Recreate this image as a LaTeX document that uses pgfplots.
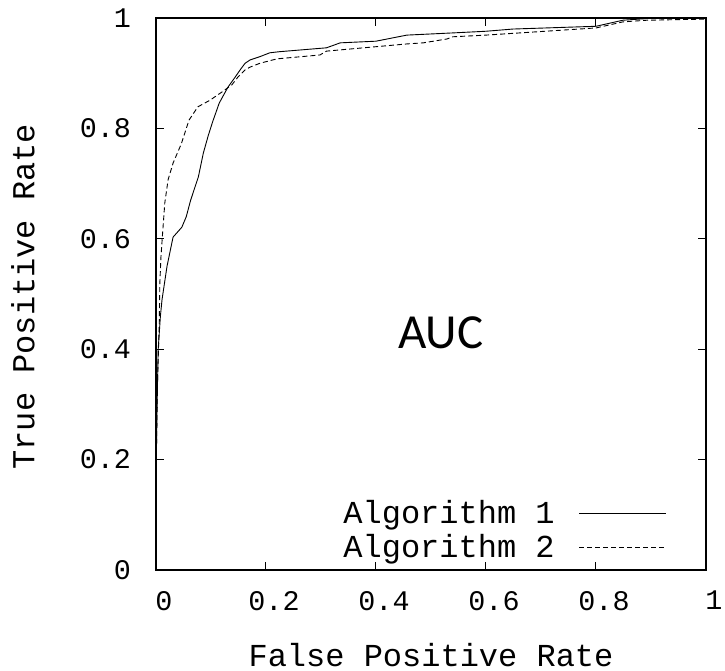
\documentclass[border=0pt]{standalone}
\usepackage{fontspec}
\setmainfont{Liberation Mono}
\newfontfamily\aucfont{Carlito}
\usepackage{pgfplots}
\pgfplotsset{compat=1.18}
\usetikzlibrary{calc}

\begin{document}
\begin{tikzpicture}
\begin{axis}[
  name=ax,
  scale only axis,
  width=275pt, height=276pt,
  xmin=0, xmax=1, ymin=0, ymax=1,
  xtick={0,0.2,0.4,0.6,0.8,1},
  ytick={0,0.2,0.4,0.6,0.8,1},
  tick align=inside,
  major tick length=4pt,
  tick style={black, line width=0.5pt},
  axis line style={line width=0.6pt},
  /pgf/number format/assume math mode=true,
  ticklabel style={font=\fontsize{14.2}{16}\selectfont},
  xticklabel style={yshift=-7pt, xshift=4pt},
  yticklabel style={xshift=-9pt},
  xlabel={False Positive Rate},
  ylabel={True Positive Rate},
  label style={font=\fontsize{16}{18}\selectfont},
  xlabel style={at={(axis description cs:0.5,-0.174)}, anchor=base},
  ylabel style={at={(axis description cs:-0.242,0.495)}, anchor=center},
  legend plot pos=right,
  legend cell align=right,
  legend style={draw=none, fill=none, inner sep=0pt,
    at={(axis description cs:0.929,0.0716)}, anchor=east,
    font=\fontsize{16}{17.5}\selectfont, column sep=10pt},
  legend image code/.code={\draw[#1] (0pt,0pt) -- (43.5pt,0pt);},
]
\addplot[black, line width=0.45pt] coordinates {
(0,0.155) (0.002,0.30) (0.004,0.40) (0.008,0.46) (0.011,0.49) (0.02,0.55)
(0.031,0.603) (0.047,0.621) (0.055,0.64) (0.063,0.670) (0.077,0.712)
(0.086,0.755) (0.095,0.787) (0.103,0.812) (0.115,0.846) (0.131,0.875)
(0.144,0.893) (0.153,0.906) (0.162,0.918) (0.171,0.924) (0.189,0.930)
(0.207,0.937) (0.225,0.939) (0.31,0.946) (0.335,0.955) (0.40,0.958)
(0.456,0.969) (0.54,0.973) (0.60,0.976) (0.649,0.980) (0.80,0.985)
(0.849,0.996) (0.893,0.999) (1,1)
};
\addlegendentry{Algorithm 1}
\addplot[black, line width=0.45pt, dash pattern=on 2.5pt off 1.5pt] coordinates {
(0,0.17) (0.003,0.35) (0.006,0.45) (0.007,0.52) (0.009,0.567) (0.012,0.61)
(0.016,0.665) (0.022,0.707) (0.031,0.737) (0.046,0.772) (0.06,0.815)
(0.076,0.839) (0.098,0.851) (0.12,0.866) (0.138,0.879) (0.149,0.893)
(0.162,0.906) (0.171,0.911) (0.189,0.918) (0.22,0.926) (0.298,0.933)
(0.31,0.940) (0.456,0.953) (0.486,0.955) (0.529,0.962) (0.54,0.966)
(0.60,0.969) (0.80,0.982) (0.849,0.993) (0.893,0.996) (1,0.998)
};
\addlegendentry{Algorithm 2}
\node[font=\aucfont\fontsize{24.5}{26}\selectfont] at (axis cs:0.518,0.429) {AUC};
\end{axis}
\pgfresetboundingbox
\path ($(ax.south west)+(-78pt,-50.5pt)$) rectangle ($(ax.north east)+(9.5pt,9pt)$);
\end{tikzpicture}
\end{document}
